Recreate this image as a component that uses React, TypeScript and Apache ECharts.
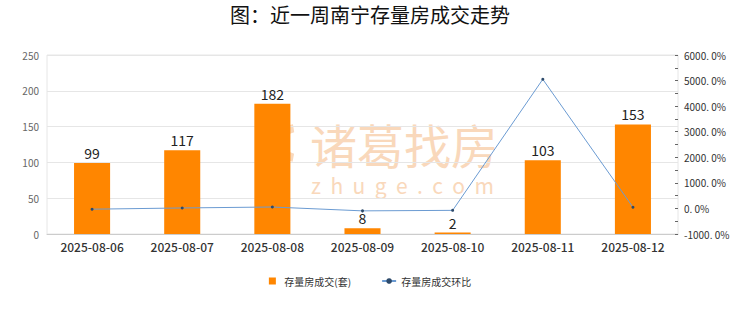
import React, { useEffect, useRef } from "react";
import * as echarts from "echarts";

const categories = ["2025-08-06", "2025-08-07", "2025-08-08", "2025-08-09", "2025-08-10", "2025-08-11", "2025-08-12"];
const deals = [99, 117, 182, 8, 2, 103, 153];
const ratio = [-30, 18.2, 55.6, -95.6, -75, 5050, 48.5];
const leftTicks = { min: 0, max: 250, interval: 50 };
const rightTicks = { min: -1000, max: 6000, interval: 1000 };

export default function App() {
  const ref = useRef<HTMLDivElement>(null);
  useEffect(() => {
    document.body.style.margin = "0";
    const chart = echarts.init(ref.current!, null, { renderer: "svg" });
    const font = "'Noto Sans CJK SC', 'Noto Sans', sans-serif";
    const wm = "#f9d8bb";
    chart.setOption({
      animation: false,
      textStyle: { fontFamily: font },
      title: {
        text: "图：近一周南宁存量房成交走势",
        left: "center",
        top: 3,
        padding: 0,
        textStyle: { fontSize: 20, lineHeight: 22, fontWeight: "normal", color: "#111", fontFamily: font },
      },
      graphic: [
        {
          type: "group",
          z: -1,
          silent: true,
          children: [
            {
              type: "arc",
              shape: { cx: 296, cy: 143, r: 15, startAngle: 1.75, endAngle: 4.55 },
              style: { stroke: wm, lineWidth: 8, fill: null },
            },
            {
              type: "text",
              x: 310,
              y: 143,
              style: { text: "诸葛找房", fontSize: 47, fill: wm, fontFamily: font, verticalAlign: "middle", lineHeight: 47 },
            },
            {
              type: "text",
              x: 311,
              y: 185,
              style: { text: "z  h  u  g  e  .  c  o  m", fontSize: 21, fill: wm, fontFamily: font, verticalAlign: "middle", lineHeight: 21 },
            },
          ],
        },
      ],
      legend: {
        bottom: 21,
        left: "center",
        itemWidth: 14,
        itemHeight: 7,
        itemGap: 30,
        textStyle: { fontSize: 10, color: "#333" },
        data: [
          { name: "存量房成交(套)", icon: "path://M0,0h10v10h-10z" },
          { name: "存量房成交环比" },
        ],
      },
      grid: {
        left: 47,
        right: 62,
        top: 55,
        bottom: 78,
        show: true,
        borderColor: "#e6e6e6",
        borderWidth: 1,
      },
      xAxis: {
        type: "category",
        data: categories,
        axisLine: { lineStyle: { color: "#ccc" } },
        axisTick: { show: false },
        axisLabel: { fontSize: 12, color: "#333", margin: 6, fontWeight: 500 },
      },
      yAxis: [
        {
          type: "value",
          ...leftTicks,
          axisLine: { show: false },
          axisTick: { show: false },
          axisLabel: { fontSize: 10, color: "#666" },
          splitLine: { lineStyle: { color: "#e6e6e6" } },
        },
        {
          type: "value",
          ...rightTicks,
          position: "right",
          axisLine: { show: false },
          axisTick: { show: true, inside: true, length: 3, lineStyle: { color: "#666" } },
          minorTick: { show: true, splitNumber: 2, length: 3, lineStyle: { color: "#666" } },
          axisLabel: {
            fontSize: 10,
            color: "#333",
            margin: 6,
            formatter: (v: number) => v.toFixed(1).replace(".", ". ") + "%",
          },
          splitLine: { show: false },
        },
      ],
      series: [
        {
          name: "存量房成交(套)",
          type: "bar",
          data: deals,
          barWidth: "40%",
          itemStyle: { color: "#ff8600" },
          label: { show: true, position: "top", fontSize: 14, color: "#222", distance: 3 },
        },
        {
          name: "存量房成交环比",
          type: "line",
          yAxisIndex: 1,
          data: ratio,
          symbol: "circle",
          symbolSize: 3,
          itemStyle: { color: "#2d4a6b" },
          lineStyle: { color: "#6b9bd2", width: 1 },
        },
      ],
    });
    return () => chart.dispose();
  }, []);
  return <div ref={ref} style={{ width: 740, height: 312 }} />;
}
